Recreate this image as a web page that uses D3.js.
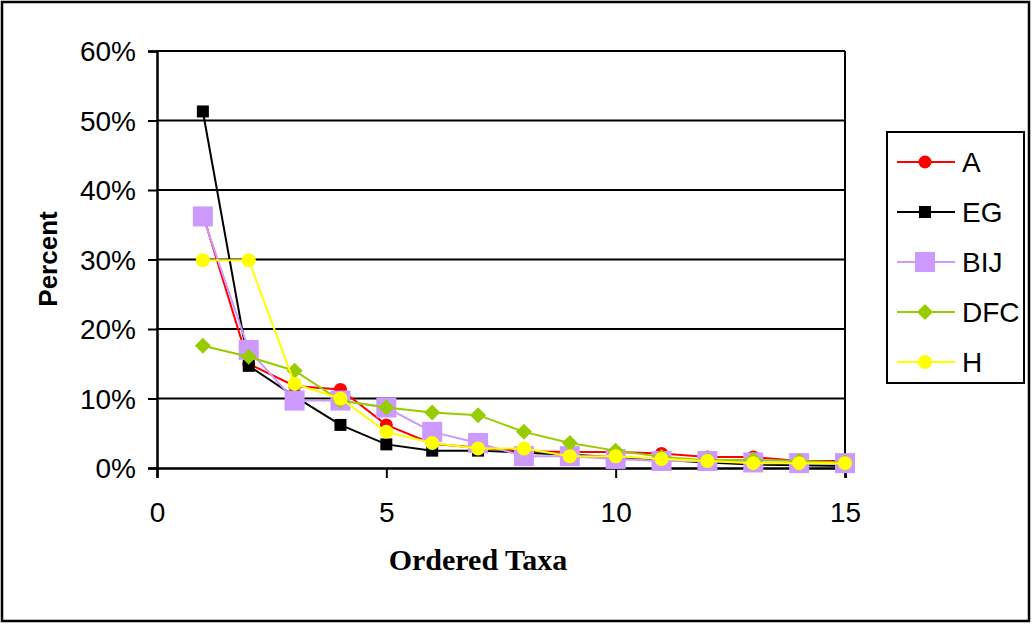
<!DOCTYPE html>
<html><head><meta charset="utf-8">
<script src="https://cdn.jsdelivr.net/npm/d3@7"></script>
<style>body{margin:0;background:#fff}svg{display:block}</style>
</head><body>
<svg id="c" width="1032" height="624"></svg>
<script>
// ---- data ----
const ranks = [1,2,3,4,5,6,7,8,9,10,11,12,13,14,15];
const seriesNames = ["A","EG","BIJ","DFC","H"];
const valuesA   = [36.5,15.0,11.8,11.3,6.2,3.5,2.9,2.4,2.3,2.3,2.1,1.6,1.6,1.0,1.0];
const valuesEG  = [51.3,14.7,10.3,6.2,3.4,2.5,2.5,2.2,1.9,1.6,1.2,0.8,0.5,0.4,0.3];
const valuesBIJ = [36.2,17.0,9.7,9.7,8.7,5.2,3.6,1.7,1.7,1.3,1.0,1.0,0.8,0.7,0.7];
const valuesDFC = [17.6,16.0,14.0,9.7,8.7,8.0,7.6,5.2,3.6,2.5,1.6,1.1,1.2,1.0,0.8];
const valuesH   = [29.9,29.9,12.1,10.0,5.2,3.6,2.8,2.8,1.7,1.7,1.3,1.0,0.7,0.7,0.7];
const yTicks = [0,10,20,30,40,50,60];
const xTicks = [0,5,10,15];

const colors = {A:"#FF0000",EG:"#000000",BIJ:"#CC99FF",DFC:"#99CC00",H:"#FFFF00"};
const shapes = {A:"circle",EG:"square",BIJ:"bigsquare",DFC:"diamond",H:"circle2"};
const valuesBy = {A:valuesA,EG:valuesEG,BIJ:valuesBIJ,DFC:valuesDFC,H:valuesH};

const svg = d3.select("#c");
svg.append("rect").attr("x",2).attr("y",2).attr("width",1027).attr("height",619)
  .attr("fill","#fff").attr("stroke","#000").attr("stroke-width",2.5);

const L=157,R=845,T=51,B=468;
const x = d3.scaleLinear().domain([0,15]).range([L,R]);
const y = d3.scaleLinear().domain([0,60]).range([B,T]);

// gridlines
svg.append("g").selectAll("line").data(yTicks.filter(d=>d>0)).join("line")
  .attr("x1",L).attr("x2",R).attr("y1",d=>y(d)).attr("y2",d=>y(d))
  .attr("stroke","#000").attr("stroke-width",2);
svg.append("line").attr("x1",R).attr("x2",R).attr("y1",T).attr("y2",B)
  .attr("stroke","#000").attr("stroke-width",2);

// axes
const font = "'Liberation Sans', Arial, sans-serif";
const ya = svg.append("g").attr("transform",`translate(${L},0)`)
  .call(d3.axisLeft(y).tickValues(yTicks).tickFormat(d=>d+"%").tickSize(9).tickPadding(12));
const xa = svg.append("g").attr("transform",`translate(0,${B})`)
  .call(d3.axisBottom(x).tickValues(xTicks).tickSize(10).tickPadding(24));
[ya,xa].forEach(g=>{
  g.select(".domain").attr("stroke","#000").attr("stroke-width",2.5);
  g.selectAll(".tick line").attr("stroke","#000").attr("stroke-width",2);
  g.selectAll("text").attr("font-family",font).attr("font-size",28).attr("fill","#000");
});
ya.selectAll("text").attr("dy","0.35em");

// axis titles
svg.append("text").attr("transform","translate(57,259) rotate(-90)")
  .attr("text-anchor","middle").attr("font-family",font).attr("font-weight","bold")
  .attr("font-size",26).text("Percent");
svg.append("text").attr("x",478).attr("y",570).attr("text-anchor","middle")
  .attr("font-family","'Liberation Serif','Times New Roman',serif").attr("font-weight","bold")
  .attr("font-size",30).text("Ordered Taxa");

function marker(g, name, cx, cy){
  const c = colors[name];
  const s = shapes[name];
  if(s==="circle") g.append("circle").attr("cx",cx).attr("cy",cy).attr("r",6.5).attr("fill",c);
  else if(s==="circle2") g.append("circle").attr("cx",cx).attr("cy",cy).attr("r",7).attr("fill",c);
  else if(s==="square") g.append("rect").attr("x",cx-6).attr("y",cy-6).attr("width",12).attr("height",12).attr("fill",c);
  else if(s==="bigsquare") g.append("rect").attr("x",cx-10).attr("y",cy-10).attr("width",20).attr("height",20).attr("fill",c);
  else if(s==="diamond") g.append("path").attr("d",`M${cx},${cy-8}L${cx+8},${cy}L${cx},${cy+8}L${cx-8},${cy}Z`).attr("fill",c);
}

const line = d3.line().x((d,i)=>x(ranks[i])).y(d=>y(d));
seriesNames.forEach(name=>{
  const g = svg.append("g");
  const vals = valuesBy[name];
  g.append("path").attr("d",line(vals)).attr("fill","none")
    .attr("stroke",colors[name]).attr("stroke-width",2);
  vals.forEach((v,i)=>marker(g,name,x(ranks[i]),y(v)));
});

// legend
const lg = svg.append("g");
lg.append("rect").attr("x",887).attr("y",132).attr("width",137).attr("height",251)
  .attr("fill","#fff").attr("stroke","#000").attr("stroke-width",2);
seriesNames.forEach((name,i)=>{
  const yy = 162 + i*50;
  lg.append("line").attr("x1",897).attr("x2",955).attr("y1",yy).attr("y2",yy)
    .attr("stroke",colors[name]).attr("stroke-width",2);
  marker(lg,name,925,yy);
  lg.append("text").attr("x",962).attr("y",yy).attr("dy","0.36em")
    .attr("font-family",font).attr("font-size",28).text(name);
});
</script>
</body></html>
